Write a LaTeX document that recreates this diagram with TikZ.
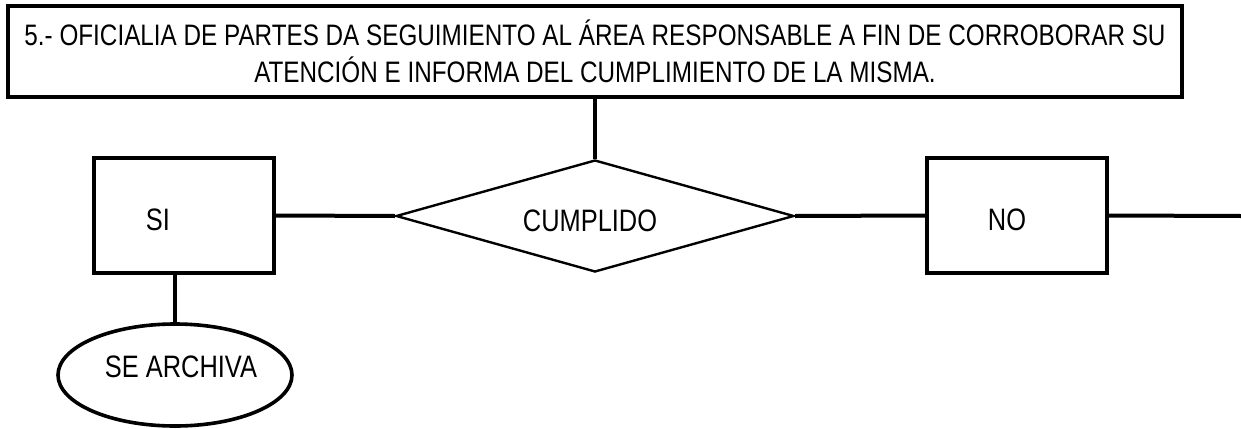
\documentclass[tikz,border=0pt]{standalone}
\usepackage{fontspec}
\setmainfont{Liberation Sans}[FakeStretch=0.82]
\usetikzlibrary{shapes.geometric}

\begin{document}
\begin{tikzpicture}[x=0.5pt, y=-0.5pt,
        every node/.style={font=\fontsize{15.5}{19}\selectfont},
        box/.style={draw, line width=2pt, rectangle, inner sep=0pt},
        decision/.style={draw, line width=1.2pt, diamond, inner sep=0pt,
        minimum width=199pt, minimum height=56pt},
        terminal/.style={draw, line width=1.8pt, ellipse, inner sep=0pt,
        minimum width=117pt, minimum height=51pt},
        link/.style={line width=2pt}]
        \useasboundingbox (0,0) rectangle (1241,428);
        % paso 5
        \node[box, minimum width=587pt, minimum height=45.5pt, align=center,
        font=\fontsize{14.8}{18.5}\selectfont] (paso) at (595,51.5)
        {5.- OFICIALIA DE PARTES DA SEGUIMIENTO AL ÁREA RESPONSABLE A FIN DE CORROBORAR SU\\
        ATENCIÓN E INFORMA DEL CUMPLIMIENTO DE LA MISMA.};
        % decision
        \node[decision, label={[xshift=-2.5pt, yshift=-2.5pt]center:CUMPLIDO}] (cumplido) at (595,216) {};
        \node[box, minimum width=90pt, minimum height=57.5pt,
        label={[xshift=-13pt, yshift=-2.25pt]center:SI}] (si) at (184,215.5) {};
        \node[box, minimum width=90pt, minimum height=57.5pt,
        label={[xshift=-5pt, yshift=-2.25pt]center:NO}] (no) at (1017,215.5) {};
        \node[terminal, label={[xshift=3pt, yshift=4pt]center:SE ARCHIVA}] (archiva) at (175,375) {};
        \coordinate (salida) at (1241,216);
        % conectores
        \draw[link] (paso.south) -- (cumplido.north);
        \draw[link] (si.east) -- (cumplido.west);
        \draw[link] (cumplido.east) -- (no.west);
        \draw[link] (no.east) -- (salida);
        \draw[link] (si.south -| archiva.north) -- (archiva.north);
\end{tikzpicture}
\end{document}
